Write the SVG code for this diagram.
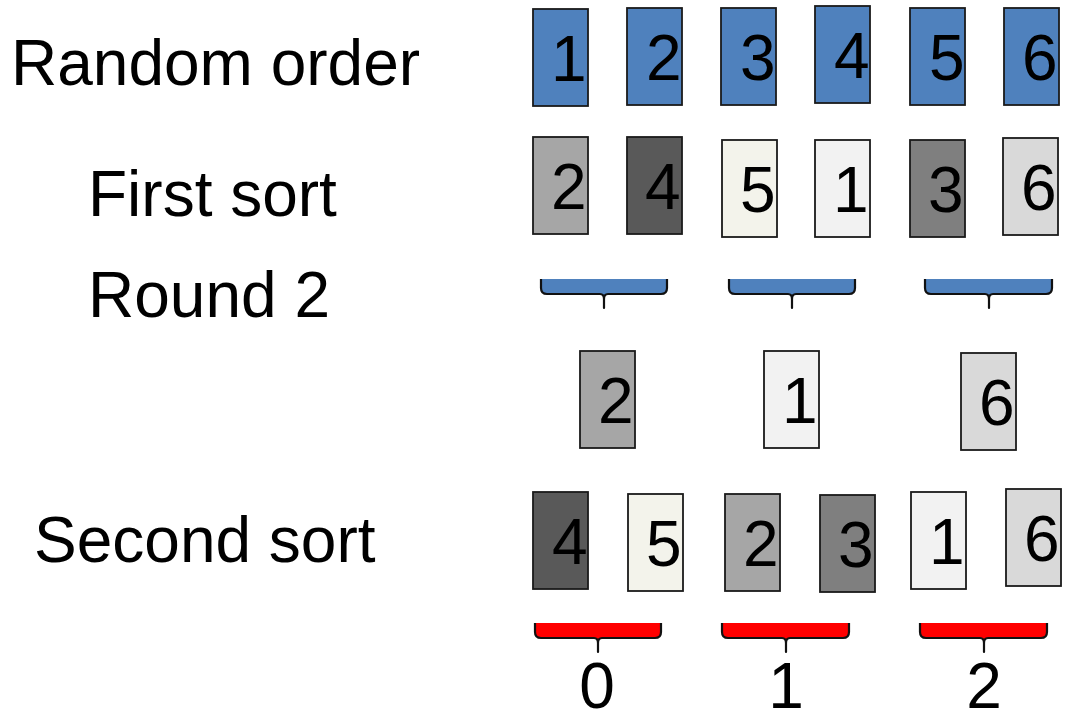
<svg xmlns="http://www.w3.org/2000/svg" width="1066" height="714" viewBox="0 0 1066 714">
<style>
text{font-family:"Liberation Sans",Arial,sans-serif;font-size:64px;fill:#000}
.card{stroke:#1a1a1a;stroke-width:1.8}
.blue{fill:#4F81BD}
.g1{fill:#A6A6A6}.g2{fill:#595959}.g3{fill:#F3F3EB}.g4{fill:#F2F2F2}.g5{fill:#7F7F7F}.g6{fill:#D9D9D9}
.brace{stroke:#111;stroke-width:2.2;stroke-linejoin:round}
.bb{fill:#4F81BD}.rb{fill:#FF0000}
.mid{text-anchor:middle}
</style>
<rect width="1066" height="714" fill="#fff"/>
<g id="labels">
<text x="11" y="85">Random order</text>
<text x="88" y="216">First sort</text>
<text x="88" y="317">Round 2</text>
<text x="34" y="562">Second sort</text>
</g>
<g id="row1">
<g id="r1c1"><rect class="card blue" x="533" y="9" width="55" height="97"/><text x="551" y="81">1</text></g>
<g id="r1c2"><rect class="card blue" x="627" y="8" width="55" height="97"/><text x="646" y="80">2</text></g>
<g id="r1c3"><rect class="card blue" x="721" y="8" width="55" height="97"/><text x="740" y="80">3</text></g>
<g id="r1c4"><rect class="card blue" x="815" y="6" width="55" height="97"/><text x="834" y="78">4</text></g>
<g id="r1c5"><rect class="card blue" x="910" y="8" width="55" height="97"/><text x="929" y="80">5</text></g>
<g id="r1c6"><rect class="card blue" x="1004" y="8" width="55" height="97"/><text x="1022" y="80">6</text></g>
</g>
<g id="row2">
<g id="r2c1"><rect class="card g1" x="533" y="137" width="55" height="97"/><text x="551" y="209">2</text></g>
<g id="r2c2"><rect class="card g2" x="627" y="137" width="55" height="97"/><text x="645" y="209">4</text></g>
<g id="r2c3"><rect class="card g3" x="722" y="140" width="55" height="97"/><text x="740" y="212">5</text></g>
<g id="r2c4"><rect class="card g4" x="815" y="140" width="55" height="97"/><text x="833" y="212">1</text></g>
<g id="r2c5"><rect class="card g5" x="910" y="140" width="55" height="97"/><text x="928" y="212">3</text></g>
<g id="r2c6"><rect class="card g6" x="1003" y="138" width="55" height="97"/><text x="1021" y="210">6</text></g>
</g>
<g id="row3">
<g id="r3c1"><rect class="card g1" x="580" y="351" width="55" height="97"/><text x="598" y="423">2</text></g>
<g id="r3c2"><rect class="card g4" x="764" y="351" width="55" height="97"/><text x="782" y="423">1</text></g>
<g id="r3c3"><rect class="card g6" x="961" y="353" width="55" height="97"/><text x="979" y="425">6</text></g>
</g>
<g id="row4">
<g id="r4c1"><rect class="card g2" x="533" y="492" width="55" height="97"/><text x="552" y="564">4</text></g>
<g id="r4c2"><rect class="card g3" x="628" y="494" width="55" height="97"/><text x="646" y="566">5</text></g>
<g id="r4c3"><rect class="card g1" x="725" y="494" width="55" height="97"/><text x="743" y="566">2</text></g>
<g id="r4c4"><rect class="card g5" x="820" y="495" width="55" height="97"/><text x="838" y="567">3</text></g>
<g id="r4c5"><rect class="card g4" x="911" y="492" width="55" height="97"/><text x="929" y="564">1</text></g>
<g id="r4c6"><rect class="card g6" x="1006" y="489" width="55" height="97"/><text x="1024" y="561">6</text></g>
</g>
<g id="connectors">
<path class="brace bb" d="M541,279 L541,288 Q541,294 547,294 L600,294 Q604,294 604,299 L604,308 L604,299 Q604,294 608,294 L661,294 Q667,294 667,288 L667,279"/>
<path class="brace bb" d="M729,279 L729,288 Q729,294 735,294 L788,294 Q792,294 792,299 L792,308 L792,299 Q792,294 796,294 L849,294 Q855,294 855,288 L855,279"/>
<path class="brace bb" d="M925,279 L925,288 Q925,294 931,294 L985,294 Q989,294 989,299 L989,308 L989,299 Q989,294 993,294 L1046,294 Q1052,294 1052,288 L1052,279"/>
<path class="brace rb" d="M535,623 L535,632 Q535,638 541,638 L594,638 Q598,638 598,643 L598,652 L598,643 Q598,638 602,638 L655,638 Q661,638 661,632 L661,623"/>
<path class="brace rb" d="M722,623 L722,632 Q722,638 728,638 L782,638 Q786,638 786,643 L786,652 L786,643 Q786,638 790,638 L843,638 Q849,638 849,632 L849,623"/>
<path class="brace rb" d="M920,623 L920,632 Q920,638 926,638 L980,638 Q984,638 984,643 L984,652 L984,643 Q984,638 988,638 L1041,638 Q1047,638 1047,632 L1047,623"/>
</g>
<g id="bucket-labels">
<text class="mid" x="597" y="708">0</text>
<text class="mid" x="786" y="708">1</text>
<text class="mid" x="984" y="708">2</text>
</g>
</svg>
